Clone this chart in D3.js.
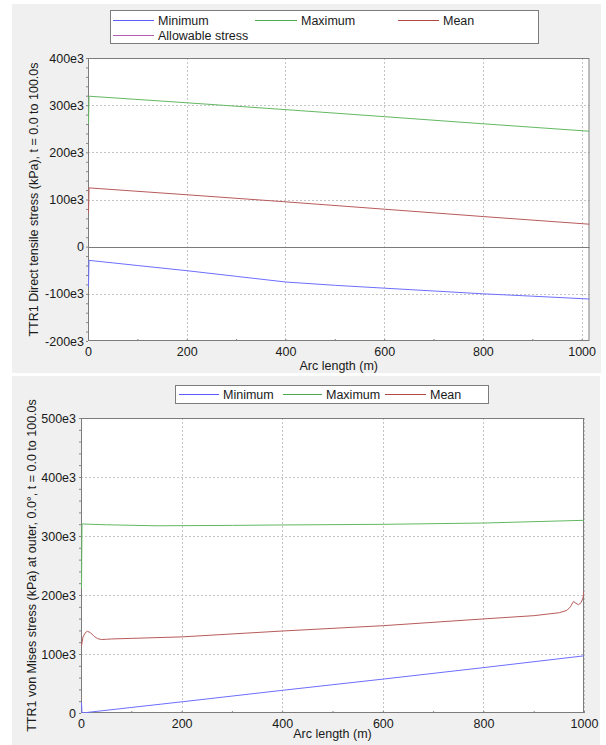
<!DOCTYPE html>
<html><head><meta charset="utf-8">
<script src="https://cdn.jsdelivr.net/npm/d3@7/dist/d3.min.js"></script>
<style>
html,body{margin:0;padding:0;background:#fff;}
svg text{font-family:"Liberation Sans",Arial,sans-serif;font-size:12.5px;fill:#1a1a1a;}
</style></head>
<body>
<svg id="c" width="606" height="745"></svg>
<script>
// ---------- Data: top chart (Direct tensile stress) ----------
const topArc      = [0, 1, 100, 200, 300, 400, 500, 600, 700, 800, 900, 1015];
const topMinimum  = [-85e3, -29e3, -40e3, -51e3, -63e3, -75e3, -82e3, -88e3, -94e3, -100e3, -105e3, -111e3];
const topMaxArc   = [0, 1, 200, 400, 600, 800, 1015];
const topMaximum  = [261e3, 319e3, 305e3, 290.5e3, 275.6e3, 260.5e3, 244.7e3];
const topMeanArc  = [0, 1, 200, 400, 600, 800, 1015];
const topMean     = [71e3, 124.6e3, 110e3, 95e3, 79.4e3, 63.8e3, 47.6e3];
const topAllowArc = [];
const topAllowable = [];
const topYTicks   = [-200e3, -100e3, 0, 100e3, 200e3, 300e3, 400e3];
const topXTicks   = [0, 200, 400, 600, 800, 1000];

// ---------- Data: bottom chart (von Mises stress) ----------
const botMinArc   = [0, 1, 200, 400, 600, 800, 1000];
const botMinimum  = [18e3, 0, 19e3, 38.5e3, 57.5e3, 77e3, 97e3];
const botMaxArc   = [0, 1, 50, 150, 300, 400, 600, 800, 1000];
const botMaximum  = [212e3, 320.4e3, 319e3, 317.3e3, 318e3, 318.7e3, 319.8e3, 322e3, 326.6e3];
const botMeanArc  = [0, 3, 8, 12, 18, 25, 32, 40, 50, 60, 100, 200, 400, 600, 800, 900, 950, 965, 972, 978, 983, 988, 993, 997, 1000];
const botMean     = [114e3, 129e3, 136.5e3, 138.5e3, 136e3, 130e3, 126e3, 124.5e3, 125e3, 125.5e3, 126.5e3, 129e3, 139e3, 148e3, 159.5e3, 165e3, 170e3, 174e3, 180e3, 189e3, 186e3, 183.5e3, 187e3, 195e3, 211e3];
const botYTicks   = [0, 100e3, 200e3, 300e3, 400e3, 500e3];
const botXTicks   = [0, 200, 400, 600, 800, 1000];

const colors = {min:"#5a5aff", max:"#4caa4c", mean:"#b04848", allow:"#b45cb4"};
const plotColors = {min:"#6e6eff", max:"#62b862", mean:"#b85a5a", allow:"#bf70bf"};

const svg = d3.select("#c");
const fmt = v => v === 0 ? "0" : (v/1000) + "e3";

function zip(xs, ys){ return xs.map((x,i)=>[x, ys[i]]); }

function panel(cfg){
  const g = svg.append("g");
  g.append("rect").attr("x",cfg.panel[0]).attr("y",cfg.panel[1])
    .attr("width",cfg.panel[2]).attr("height",cfg.panel[3]).attr("fill","#f0f0f0");

  const x = d3.scaleLinear().domain(cfg.xDomain).range([cfg.left, cfg.right]);
  const y = d3.scaleLinear().domain(cfg.yDomain).range([cfg.bottom, cfg.top]);

  g.append("rect").attr("x",cfg.left).attr("y",cfg.top)
    .attr("width",cfg.right-cfg.left).attr("height",cfg.bottom-cfg.top).attr("fill","#fff");

  // grid
  const grid = g.append("g").attr("stroke","#c4c4c4").attr("stroke-dasharray","2,2").attr("stroke-width",1);
  cfg.xTicks.filter(t=>t>cfg.xDomain[0]).forEach(t=>{
    grid.append("line").attr("x1",Math.round(x(t))+0.5).attr("x2",Math.round(x(t))+0.5)
      .attr("y1",cfg.top).attr("y2",cfg.bottom);
  });
  cfg.yTicks.filter(t=>t>cfg.yDomain[0] && t<cfg.yDomain[1] && t!==0).forEach(t=>{
    grid.append("line").attr("y1",Math.round(y(t))+0.5).attr("y2",Math.round(y(t))+0.5)
      .attr("x1",cfg.left).attr("x2",cfg.right);
  });
  if (cfg.zeroLine){
    g.append("line").attr("x1",cfg.left).attr("x2",cfg.right)
      .attr("y1",Math.round(y(0))+0.5).attr("y2",Math.round(y(0))+0.5)
      .attr("stroke","#7a7a7a").attr("stroke-width",1);
  }

  // axes via d3
  const xAxis = d3.axisBottom(x).tickValues(cfg.xTicks).tickFormat(d=>d).tickSize(0).tickPadding(6);
  const xa = g.append("g").attr("transform",`translate(0,${cfg.bottom})`).call(xAxis);
  xa.select(".domain").remove();
  xa.selectAll("text").attr("font-size",null).attr("font-family",null).attr("fill",null).attr("dy","0.72em");
  const xMinor = d3.range(cfg.xDomain[0], cfg.xDomain[1]+1, 100);
  const xm = g.append("g").attr("transform",`translate(0,${cfg.bottom})`)
    .call(d3.axisBottom(x).tickValues(xMinor).tickFormat("").tickSize(-2));
  xm.select(".domain").remove(); xm.selectAll("line").attr("stroke","#888");

  const yAxis = d3.axisLeft(y).tickValues(cfg.yTicks).tickFormat(fmt).tickSize(0).tickPadding(cfg.yPad);
  const ya = g.append("g").attr("transform",`translate(${cfg.left},0)`).call(yAxis);
  ya.select(".domain").remove();
  ya.selectAll("text").attr("font-size",null).attr("font-family",null).attr("fill",null);
  const yMinor = d3.range(cfg.yDomain[0], cfg.yDomain[1]+1, 20e3);
  const ym = g.append("g").attr("transform",`translate(${cfg.left},0)`)
    .call(d3.axisLeft(y).tickValues(yMinor).tickFormat("").tickSize(2));
  ym.select(".domain").remove(); ym.selectAll("line").attr("stroke","#888");

  // frame
  g.append("rect").attr("x",cfg.left+0.5).attr("y",cfg.top+0.5)
    .attr("width",cfg.right-cfg.left-1).attr("height",cfg.bottom-cfg.top-1)
    .attr("fill","none").attr("stroke","#7c7c7c").attr("stroke-width",1);

  // series
  const clipId = "clip"+cfg.id;
  g.append("clipPath").attr("id",clipId).append("rect")
    .attr("x",cfg.left).attr("y",cfg.top).attr("width",cfg.right-cfg.left).attr("height",cfg.bottom-cfg.top);
  const line = d3.line().x(d=>x(d[0])+0.5).y(d=>y(d[1]));
  cfg.series.forEach(s=>{
    if (!s.data.length) return;
    g.append("path").attr("d",line(s.data)).attr("fill","none")
      .attr("stroke",s.color).attr("stroke-width",1).attr("clip-path",`url(#${clipId})`);
  });

  // axis titles
  g.append("text").attr("x",(cfg.left+cfg.right)/2).attr("y",cfg.xTitleY)
    .attr("text-anchor","middle").text("Arc length (m)");
  g.append("text").attr("transform",`translate(${cfg.yTitleX},${(cfg.top+cfg.bottom)/2}) rotate(-90)`)
    .attr("text-anchor","middle").attr("dy","0.35em").text(cfg.yTitle);

  // legend
  const L = cfg.legend;
  g.append("rect").attr("x",L.box[0]+0.5).attr("y",L.box[1]+0.5).attr("width",L.box[2]).attr("height",L.box[3])
    .attr("fill","#fff").attr("stroke","#7c7c7c");
  L.items.forEach(it=>{
    g.append("line").attr("x1",it.x).attr("x2",it.x+it.len).attr("y1",it.y+0.5).attr("y2",it.y+0.5)
      .attr("stroke",it.color).attr("stroke-width",1.2);
    g.append("text").attr("x",it.x+it.len+4).attr("y",it.y).attr("dy","0.36em").text(it.label);
  });
}

panel({
  id:"top",
  panel:[12,4,589,369],
  left:88, right:589.5, top:58, bottom:341,
  xDomain:[0,1016], yDomain:[-200e3,400e3],
  xTicks:topXTicks, yTicks:topYTicks, yPad:4, zeroLine:true,
  xTitleY:370, yTitleX:34,
  yTitle:"TTR1 Direct tensile stress (kPa), t = 0.0 to 100.0s",
  series:[
    {color:plotColors.min,  data:zip(topArc, topMinimum)},
    {color:plotColors.max,  data:zip(topMaxArc, topMaximum)},
    {color:plotColors.mean, data:zip(topMeanArc, topMean)},
    {color:plotColors.allow,data:zip(topAllowArc, topAllowable)}
  ],
  legend:{box:[110,10,428,33], items:[
    {x:113,y:20,len:41,color:colors.min,label:"Minimum"},
    {x:255,y:20,len:42,color:colors.max,label:"Maximum"},
    {x:398,y:20,len:41,color:colors.mean,label:"Mean"},
    {x:113,y:35,len:41,color:colors.allow,label:"Allowable stress"}
  ]}
});

panel({
  id:"bot",
  panel:[12,376,588,369],
  left:81, right:584, top:418, bottom:713,
  xDomain:[0,1000], yDomain:[0,500e3],
  xTicks:botXTicks, yTicks:botYTicks, yPad:5, zeroLine:false,
  xTitleY:738, yTitleX:32,
  yTitle:"TTR1 von Mises stress (kPa) at outer, 0.0°, t = 0.0 to 100.0s",
  series:[
    {color:plotColors.min,  data:zip(botMinArc, botMinimum)},
    {color:plotColors.max,  data:zip(botMaxArc, botMaximum)},
    {color:plotColors.mean, data:zip(botMeanArc, botMean)}
  ],
  legend:{box:[175,385,313,18], items:[
    {x:179,y:394,len:40,color:colors.min,label:"Minimum"},
    {x:283,y:394,len:39,color:colors.max,label:"Maximum"},
    {x:385,y:394,len:41,color:colors.mean,label:"Mean"}
  ]}
});
</script>
</body></html>
